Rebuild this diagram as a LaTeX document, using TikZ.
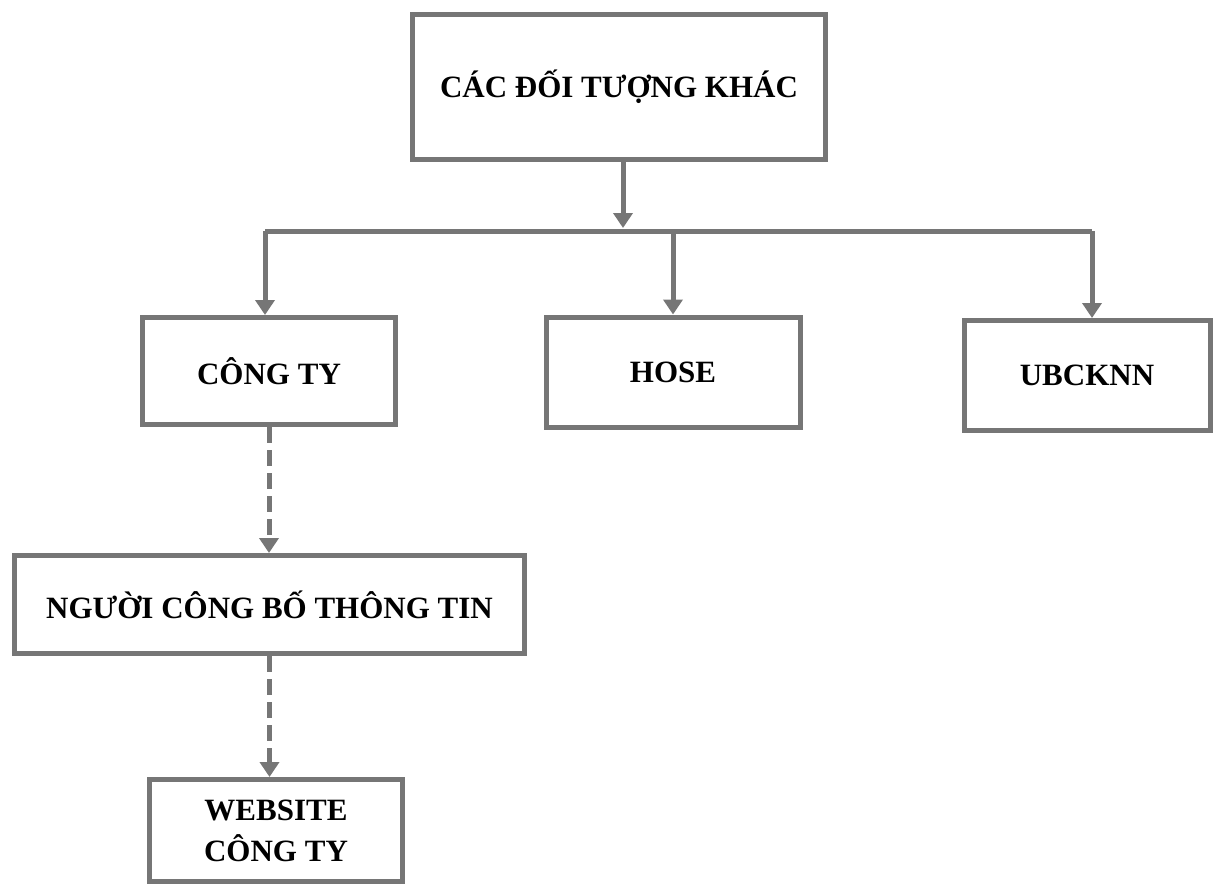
\documentclass[tikz,border=0pt]{standalone}
\usepackage{fontspec}
\setmainfont{Liberation Serif}
\usetikzlibrary{arrows.meta}
\definecolor{ln}{RGB}{118,118,118}
\tikzset{
  box/.style={draw=ln,line width=5pt,inner sep=0pt,font=\fontsize{31}{41}\selectfont\bfseries,align=center,text=black},
  conn/.style={draw=ln,line width=5pt},
  arr/.style={conn,-{Triangle[length=15pt,width=19pt]}},
  darr/.style={arr,dash pattern=on 16pt off 7pt}
}
\begin{document}
\begin{tikzpicture}[x=1pt,y=-1pt]
\useasboundingbox (0,0) rectangle (1215,888);
\node[box,minimum width=413pt,minimum height=145pt] (top) at (619,87) {CÁC ĐỐI TƯỢNG KHÁC};
\node[box,minimum width=253pt,minimum height=107pt] (cty) at (269,371) {CÔNG TY};
\node[box,minimum width=254pt,minimum height=110pt] (hose) at (673,372) {HOSE};
\node[box,minimum width=246pt,minimum height=110pt] (ubc) at (1087,375.5) {UBCKNN};
\node[box,minimum width=510pt,minimum height=98pt] (ngu) at (269.5,604.5) {NGƯỜI CÔNG BỐ THÔNG TIN};
\node[box,minimum width=253pt,minimum height=102pt] (web) at (276,830.5) {WEBSITE\\CÔNG TY};
\coordinate (bl) at (265,231);
\coordinate (br) at (1092,231);
\coordinate (bm) at (623,228);
\draw[arr] (bm |- top.south) -- (bm);
\draw[conn] (bl) -- (br);
\draw[arr] (bl) -- (bl |- cty.north);
\draw[arr] (hose.north |- bl) -- (hose.north);
\draw[arr] (br) -- (br |- ubc.north);
\draw[darr] (cty.south) -- (cty.south |- ngu.north);
\draw[darr] (ngu.south) -- (ngu.south |- web.north);
\end{tikzpicture}
\end{document}
